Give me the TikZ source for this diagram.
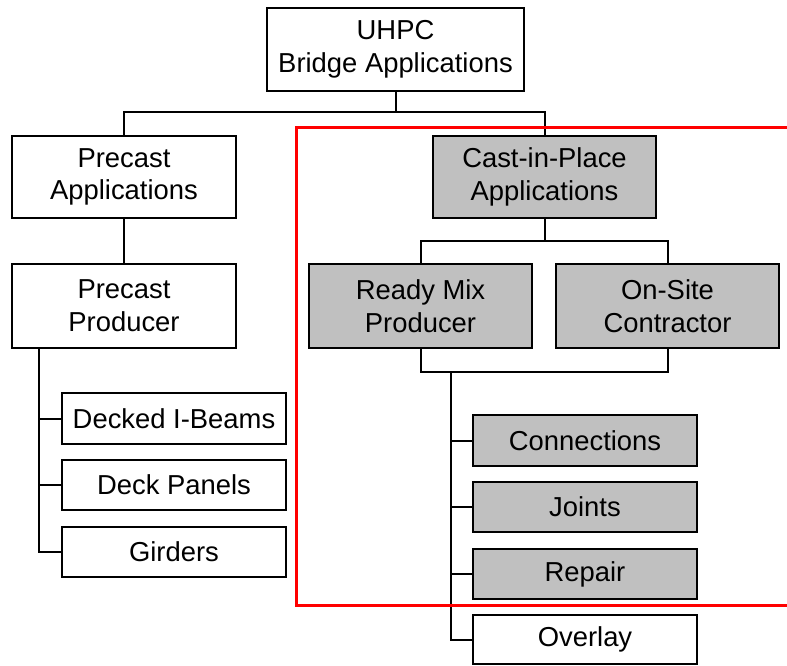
\documentclass[tikz,border=0pt]{standalone}
\usepackage{fontspec}
\setmainfont{Liberation Sans}
\definecolor{boxgray}{RGB}{192,192,192}
\begin{document}
\begin{tikzpicture}[x=1pt,y=-1pt,
  box/.style={draw=black,line width=2pt,fill=white,inner sep=0pt,align=center,
    font=\fontsize{27.4}{32.5}\selectfont},
  gbox/.style={box,fill=boxgray},
  conn/.style={draw=black,line width=2pt}]
\useasboundingbox (0,0) rectangle (787,665);
\node[box,minimum width=257pt,minimum height=83pt] (uhpc) at (395.5,49.5) {UHPC\\Bridge Applications};
\node[box,minimum width=224pt,minimum height=82pt] (papp) at (124,177) {Precast\\Applications};
\node[box,minimum width=224pt,minimum height=84pt] (pprod) at (124,305.5) {Precast\\Producer};
\node[gbox,minimum width=223pt,minimum height=82pt] (cip) at (544.5,177) {Cast-in-Place\\Applications};
\node[gbox,minimum width=223pt,minimum height=84pt] (rmix) at (420.5,306) {Ready Mix\\Producer};
\node[gbox,minimum width=223pt,minimum height=84pt] (onsite) at (667.5,306) {On-Site\\Contractor};
\node[box,minimum width=224pt,minimum height=51pt] (decked) at (174,418.5) {Decked I-Beams};
\node[box,minimum width=224pt,minimum height=50pt] (panels) at (174,485) {Deck Panels};
\node[box,minimum width=224pt,minimum height=50pt] (girders) at (174,552) {Girders};
\node[gbox,minimum width=224pt,minimum height=51pt] (connx) at (585,440.5) {Connections};
\node[gbox,minimum width=224pt,minimum height=50pt] (joints) at (585,507) {Joints};
\node[gbox,minimum width=224pt,minimum height=50pt] (repair) at (585,574) {Repair};
\node[box,minimum width=224pt,minimum height=49pt] (overlay) at (585,639.5) {Overlay};
\coordinate (j1) at (395.5,113);
\coordinate (j2) at (544.5,242);
\coordinate (j3) at (451,371);
\coordinate (j4) at (39,347);
\draw[conn] (uhpc.south) -- (j1);
\draw[conn] (papp.north) -- ++(0,-23) -| (cip.north);
\draw[conn] (papp.south) -- (pprod.north);
\draw[conn] (cip.south) -- (j2);
\draw[conn] (rmix.north) -- ++(0,-22) -| (onsite.north);
\draw[conn] (rmix.south) -- ++(0,23) -| (onsite.south);
\draw[conn] (j3) |- (overlay.west);
\draw[conn] (connx.west) -- (connx.west -| j3);
\draw[conn] (joints.west) -- (joints.west -| j3);
\draw[conn] (repair.west) -- (repair.west -| j3);
\draw[conn] (j4) |- (girders.west);
\draw[conn] (decked.west) -- (decked.west -| j4);
\draw[conn] (panels.west) -- (panels.west -| j4);
\draw[red,line width=3pt] (296,127) rectangle (800,605);
\end{tikzpicture}
\end{document}
